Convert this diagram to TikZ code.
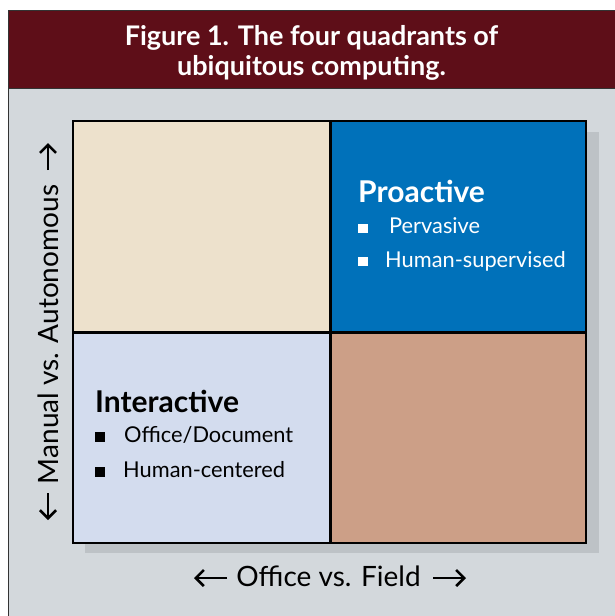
\documentclass[tikz,border=0pt]{standalone}
\usepackage{fontspec}
\setmainfont{Lato}
\usetikzlibrary{arrows.meta}
\definecolor{hdr}{HTML}{5E0E18}
\definecolor{panel}{HTML}{D3D8DC}
\definecolor{shad}{HTML}{BDC2C6}
\definecolor{beige}{HTML}{EDE1CC}
\definecolor{qblue}{HTML}{0071BA}
\definecolor{lblue}{HTML}{D3DCEE}
\definecolor{tan}{HTML}{CC9F87}
\tikzset{
  ttl/.style={anchor=base,text=white,font=\fontsize{27}{31}\selectfont\bfseries,inner sep=0pt},
  head/.style={anchor=base west,font=\fontsize{30}{34}\selectfont\bfseries,inner sep=0pt},
  item/.style={anchor=base west,font=\fontsize{21.8}{25}\selectfont,inner sep=0pt},
  axlab/.style={anchor=base,font=\fontsize{28}{32}\selectfont,inner sep=0pt},
  axarrow/.style={-{Straight Barb[length=8pt,width=16pt]},line width=2.6pt},
}
\begin{document}
\begin{tikzpicture}[x=1pt,y=-1pt]
\useasboundingbox (0,0) rectangle (615,616);
\fill[white] (0,0) rectangle (615,616);
% frame
\fill[panel] (8,88) rectangle (616,617);
\fill[hdr] (8,10) rectangle (616,88);
\draw[line width=1pt,black!80] (616,10) -- (8,10) -- (8,617);
\draw[line width=1pt,black!80] (8,88) -- (616,88);
\node[ttl] (t1) at (311.5,45) {Figure 1. The four quadrants of};
\node[ttl] (t2) at (311.5,75) {ubiquitous computing.};
% shadow
\fill[shad] (85,132) rectangle (599,553);
% quadrants
\fill[beige] (73,121) rectangle (330,332);
\fill[qblue] (330,121) rectangle (586,332);
\fill[lblue] (73,332) rectangle (330,543);
\fill[tan] (330,332) rectangle (586,543);
\draw[line width=3pt] (330,121) -- (330,543);
\draw[line width=3pt] (73,332) -- (586,332);
\draw[line width=2.5pt] (73,121) rectangle (586,543);
% proactive
\node[head,text=white] (pro) at (358,202) {Proactive};
\fill[white] (358,224) rectangle (368,233);
\node[item,text=white] (pv) at (389,233) {Pervasive};
\fill[white] (358,257) rectangle (368,266);
\node[item,text=white] (hs) at (385,267) {Human-supervised};
% interactive
\node[head] (int) at (95,412) {Interactive};
\fill[black] (95,432) rectangle (105,442);
\node[item] (od) at (124,442) {Office/Document};
\fill[black] (95,467) rectangle (105,477);
\node[item] (hc) at (123,477) {Human-centered};
% axes
\node[axlab] (ofl) at (328.5,586) {Office vs. Field};
\coordinate (la1) at (227,578); \coordinate (la2) at (194,578);
\coordinate (ra1) at (433,578); \coordinate (ra2) at (466,578);
\draw[axarrow] (la1) -- (la2);
\draw[axarrow] (ra1) -- (ra2);
\node[axlab,rotate=90] (mva) at (58,334.5) {Manual vs. Autonomous};
\coordinate (ua1) at (48,170); \coordinate (ua2) at (48,143);
\coordinate (da1) at (48,493); \coordinate (da2) at (48,520);
\draw[axarrow] (ua1) -- (ua2);
\draw[axarrow] (da1) -- (da2);
\end{tikzpicture}
\end{document}
